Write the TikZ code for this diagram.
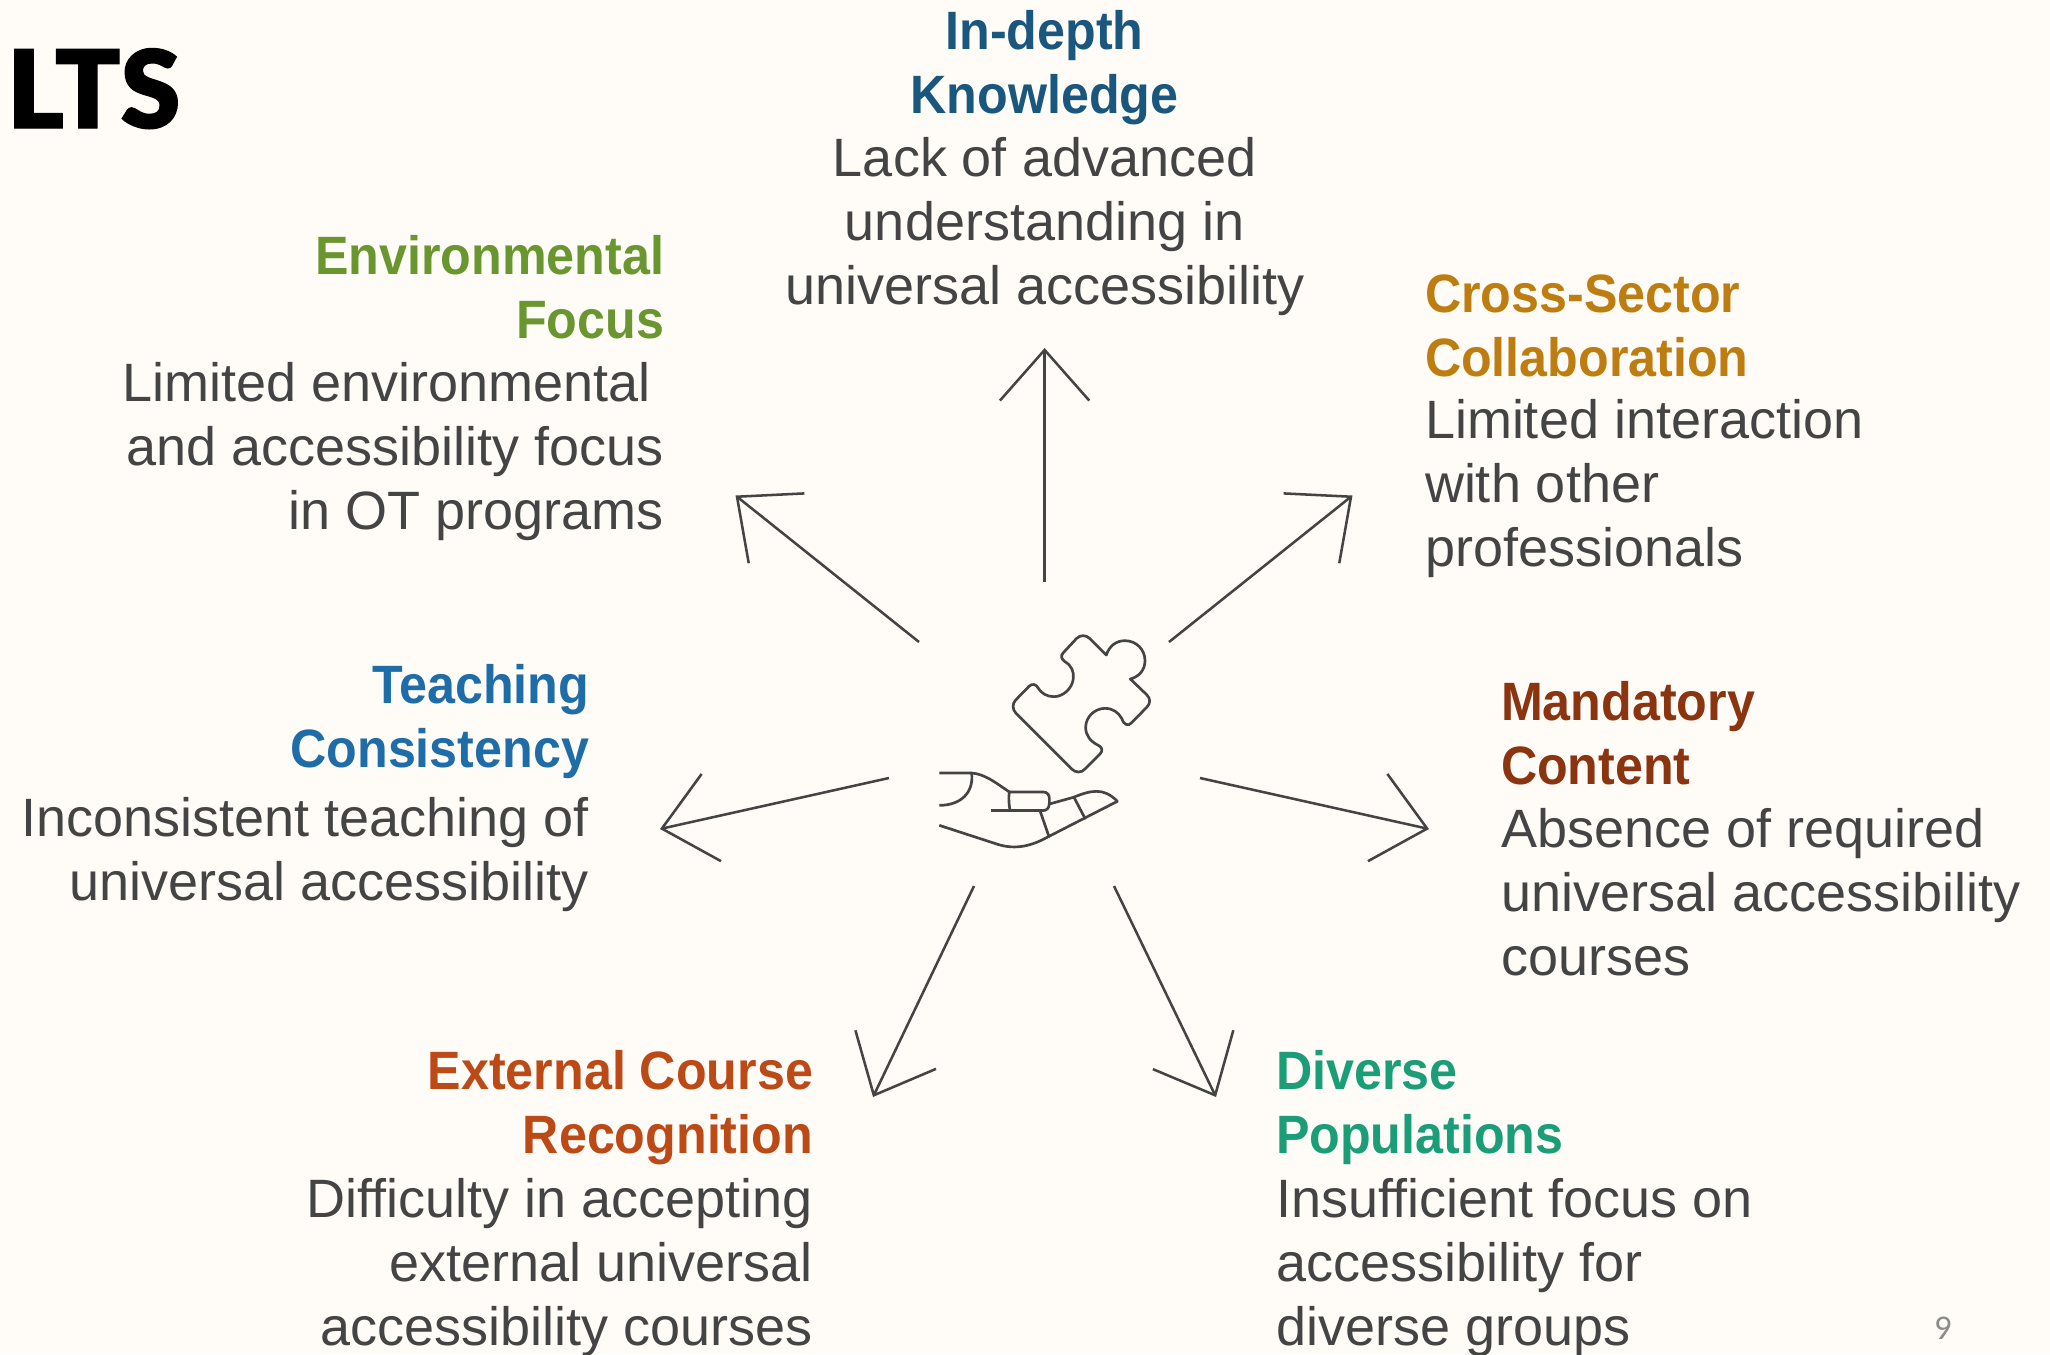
\documentclass[tikz,border=0pt]{standalone}
\usepackage{fontspec}
\usetikzlibrary{arrows.meta}
\setmainfont{Liberation Sans}[BoldFeatures={FakeStretch=0.93}]
\newfontfamily\titlefont[FakeBold=1.2]{Lato Black}
\newfontfamily\pagefont{Carlito}
\definecolor{bgc}{HTML}{FFFBF6}
\definecolor{inkc}{HTML}{444444}
\definecolor{cdepth}{HTML}{19577F}
\definecolor{cenv}{HTML}{6A962F}
\definecolor{ccross}{HTML}{BE7D10}
\definecolor{cteach}{HTML}{1F6DA8}
\definecolor{cmand}{HTML}{8A3410}
\definecolor{cext}{HTML}{BC4A17}
\definecolor{cdiv}{HTML}{1B9E77}
\newcommand\hd[2]{{\color{#1}\bfseries #2}}
\newcommand\lst{\rule[-14.4pt]{0pt}{48pt}}
\tikzset{
  lab/.style={inner sep=0pt,outer sep=0pt,text=inkc,font=\fontsize{40.5}{48}\selectfont},
  labc/.style={lab,align=center,anchor=north},
  labr/.style={lab,align=right,anchor=north east},
  labl/.style={lab,align=left,anchor=north west},
  ray/.style={draw=inkc,line width=1.9pt,-{Straight Barb[length=38pt,width=67pt]}},
  icon/.style={draw=inkc,line width=2pt,line join=round,line cap=round},
}
\begin{document}
\begin{tikzpicture}[x=0.75pt,y=-0.75pt]
\useasboundingbox (0,0) rectangle (2050,1354);
\fill[bgc] (0,0) rectangle (2050,1354);
\node[inner sep=0pt,anchor=base west,font=\titlefont\fontsize{81}{81}\selectfont] (title) at (7,128) {LTS};
\node[labc] (depth) at (1044.6,5) {\lst\hd{cdepth}{In-depth}\\\lst\hd{cdepth}{Knowledge}\\[-1pt]\lst Lack of advanced\\\lst understanding in\\\lst universal accessibility};
\node[labr] (env) at (664,230) {\lst\hd{cenv}{Environmental}\\\lst\hd{cenv}{Focus}\\[-1pt]\lst Limited environmental\rule{9.8pt}{0pt}\\\lst and accessibility focus\\\lst in OT programs};
\node[labl] (cross) at (1425,268) {\lst\hd{ccross}{Cross-Sector}\\\lst\hd{ccross}{Collaboration}\\[-2pt]\lst Limited interaction\\\lst with other\\\lst professionals};
\node[labr] (teach) at (589,659) {\lst\hd{cteach}{Teaching}\\\lst\hd{cteach}{Consistency}\\[3.2pt]\lst Inconsistent teaching of\\\lst universal accessibility};
\node[labl] (mand) at (1501,676) {\lst\hd{cmand}{Mandatory}\\\lst\hd{cmand}{Content}\\[-1pt]\lst Absence of required\\\lst universal accessibility\\\lst courses};
\node[labr] (ext) at (813,1045) {\lst\hd{cext}{External Course}\\\lst\hd{cext}{Recognition}\\\lst Difficulty in accepting\\\lst external universal\\\lst accessibility courses};
\node[labl] (div) at (1276,1045) {\lst\hd{cdiv}{Diverse}\\\lst\hd{cdiv}{Populations}\\\lst Insufficient focus on\\\lst accessibility for\\\lst diverse groups};
\node[inner sep=0pt,anchor=base,text=black!45,font=\pagefont\fontsize{26}{26}\selectfont] (pnum) at (1943,1339) {9};
% ray ends
\coordinate (u0) at (1044.6,582); \coordinate (u1) at (1044.6,348);
\coordinate (ur0) at (1169,642); \coordinate (ur1) at (1352.5,495.5);
\coordinate (ul0) at (919,642); \coordinate (ul1) at (735.5,495.5);
\coordinate (r0) at (1200,778); \coordinate (r1) at (1429,829);
\coordinate (l0) at (889,778); \coordinate (l1) at (660,829);
\coordinate (dr0) at (1114,886); \coordinate (dr1) at (1216,1097);
\coordinate (dl0) at (974,886); \coordinate (dl1) at (873,1097);
\foreach \a/\b in {u0/u1,ur0/ur1,ul0/ul1,r0/r1,l0/l1,dr0/dr1,dl0/dl1}
  \draw[ray] (\a) -- (\b);
% icon (coordinates of a 3x crop at 900,600)
\begin{scope}[shift={(900,600)},x=0.25pt,y=-0.25pt]
\draw[icon] (530,115) -- (490,158) .. controls (480,168) and (485,178) .. (495,185)
 .. controls (515,197) and (522,215) .. (520,235)
 .. controls (517,265) and (490,290) .. (462,290)
 .. controls (440,290) and (425,280) .. (415,265)
 .. controls (408,252) and (398,250) .. (388,258)
 -- (347,300) .. controls (336,312) and (337,328) .. (348,340)
 -- (515,507) .. controls (527,519) and (544,519) .. (555,507)
 -- (600,462) .. controls (609,452) and (607,442) .. (595,436)
 .. controls (570,424) and (557,405) .. (557,382)
 .. controls (557,350) and (585,325) .. (615,325)
 .. controls (638,325) and (655,337) .. (665,355)
 .. controls (672,375) and (684,380) .. (695,368)
 -- (740,322) .. controls (752,310) and (752,296) .. (740,284)
 -- (691,237) .. controls (717,230) and (735,210) .. (735,182)
 .. controls (735,148) and (708,122) .. (675,122)
 .. controls (648,122) and (628,138) .. (619,165)
 -- (570,116) .. controls (557,104) and (542,104) .. (530,115) -- cycle;
\draw[icon,line cap=butt] (118,519) -- (215,519) .. controls (255,522) and (290,550) .. (328,576);
\draw[icon,line cap=butt] (215,519) .. controls (222,580) and (180,616) .. (118,616);
\draw[icon] (328,576) -- (430,576) .. controls (442,576) and (448,585) .. (448,595) -- (448,610) .. controls (448,624) and (440,632) .. (428,632);
\draw[icon] (328,576) .. controls (325,595) and (327,612) .. (330,632);
\draw[icon,line cap=butt] (273,632) -- (430,632);
\draw[icon] (448,612) -- (520,592) .. controls (570,572) and (610,560) .. (652,604);
\draw[icon,line cap=butt] (652,604) -- (445,710) .. controls (400,735) and (350,752) .. (290,732) -- (118,676);
\draw[icon] (420,632) -- (447,710);
\draw[icon] (522,592) -- (555,655);
\end{scope}
\end{tikzpicture}
\end{document}
